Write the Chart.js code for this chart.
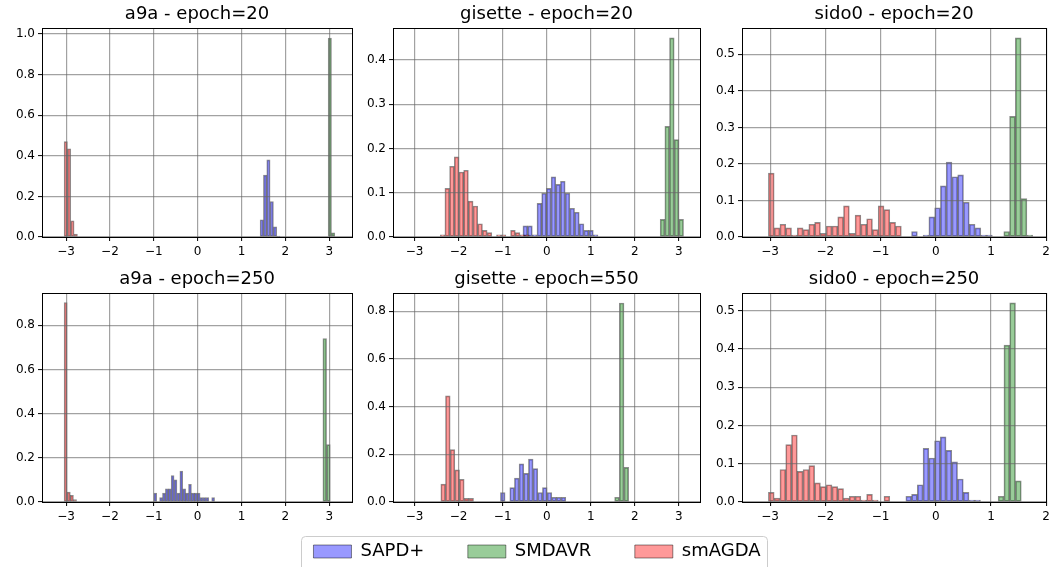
<!DOCTYPE html>
<html>
<head>
<meta charset="utf-8">
<script src="https://cdn.jsdelivr.net/npm/chart.js@4.4.1/dist/chart.umd.min.js"></script>
<style>
  html, body { margin: 0; padding: 0; background: #fff; overflow: hidden; }
  body { width: 1054px; height: 567px; position: relative; }
  canvas { position: absolute; }
</style>
</head>
<body>
<script>
// ---- data ----
const SERIES = ['SAPD+', 'SMDAVR', 'smAGDA'];
const titles = ['a9a - epoch=20', 'gisette - epoch=20', 'sido0 - epoch=20',
                'a9a - epoch=250', 'gisette - epoch=550', 'sido0 - epoch=250'];
const xTicks = [-3, -2, -1, 0, 1, 2, 3];

// each histogram: first bin edge and bin width per series (SAPD+, SMDAVR, smAGDA),
// then the bar heights (share of samples per bin)
const a9a20Start = [1.424, 2.976, -3.046];
const a9a20Width = [0.076, 0.076, 0.076];
const a9a20Sapd = [0.085, 0.305, 0.38, 0.175, 0.05, 0.005];
const a9a20Smdavr = [0.98, 0.02];
const a9a20Smagda = [0.47, 0.435, 0.08, 0.015];

const gis20Start = [-0.54, 2.576, -2.418];
const gis20Width = [0.1065, 0.106, 0.1065];
const gis20Sapd = [0.025, 0.025, 0.005, 0.076, 0.099, 0.11, 0.136, 0.119, 0.126, 0.099, 0.065, 0.056, 0.03, 0.015, 0.015, 0.005];
const gis20Smdavr = [0.04, 0.25, 0.45, 0.22, 0.04];
const gis20Smagda = [0.005, 0.11, 0.16, 0.181, 0.147, 0.151, 0.081, 0.07, 0.03, 0.015, 0.01, 0, 0.005, 0.005, 0, 0.015, 0.01, 0.005, 0.005, 0];

const sido20Start = [-0.4385, 1.232, -3.032];
const sido20Width = [0.1045, 0.1047, 0.1047];
const sido20Sapd = [0.015, 0, 0.005, 0.055, 0.08, 0.14, 0.205, 0.165, 0.17, 0.095, 0.035, 0.025, 0.005, 0.005];
const sido20Smdavr = [0.015, 0.33, 0.545, 0.105, 0.005];
const sido20Smagda = [0.175, 0.025, 0.035, 0.025, 0.005, 0.025, 0.02, 0.035, 0.04, 0.01, 0.03, 0.03, 0.055, 0.085, 0.01, 0.06, 0.035, 0.05, 0.02, 0.085, 0.075, 0.04, 0.03];

const a9a250Start = [-1.0, 2.856, -3.046];
const a9a250Width = [0.066, 0.084, 0.071];
const a9a250Sapd = [0.04, 0, 0.02, 0.04, 0.06, 0.06, 0.12, 0.1, 0.04, 0.14, 0.06, 0.04, 0.08, 0.04, 0.04, 0.04, 0.02, 0.02, 0.02, 0, 0.02];
const a9a250Smdavr = [0.74, 0.26];
const a9a250Smagda = [0.903, 0.045, 0.03, 0.011];

const gis550Start = [-1.051, 1.542, -2.404];
const gis550Width = [0.106, 0.106, 0.106];
const gis550Sapd = [0.04, 0, 0.06, 0.1, 0.16, 0.12, 0.18, 0.14, 0.04, 0.06, 0.04, 0.02, 0.02, 0.02];
const gis550Smdavr = [0.02, 0.835, 0.145];
const gis550Smagda = [0.075, 0.445, 0.22, 0.135, 0.095, 0.015, 0.015];

const sido250Start = [-0.542, 1.13, -3.032];
const sido250Width = [0.104, 0.1047, 0.1047];
const sido250Sapd = [0.015, 0.02, 0.045, 0.14, 0.115, 0.16, 0.17, 0.135, 0.105, 0.06, 0.025, 0.005, 0.005];
const sido250Smdavr = [0.015, 0.41, 0.52, 0.055];
const sido250Smagda = [0.025, 0.01, 0.085, 0.15, 0.175, 0.08, 0.085, 0.095, 0.05, 0.04, 0.045, 0.04, 0.035, 0.01, 0.015, 0.015, 0.005, 0.02, 0.005, 0, 0.015];

// ---- styling / layout ----
const FILL = ['rgba(0,0,255,0.4)', 'rgba(0,128,0,0.4)', 'rgba(255,0,0,0.4)'];
const EDGE = 'rgba(0,0,0,0.45)';
const GRID = 'rgba(100,100,100,0.6)';

Chart.defaults.font.family = "'DejaVu Sans', sans-serif";
Chart.defaults.color = '#000';

const panels = [
  { start: a9a20Start, width: a9a20Width, h: [a9a20Sapd, a9a20Smdavr, a9a20Smagda], xLim: [-3.55, 3.52], yMax: 1.03, yTicks: [0, 0.2, 0.4, 0.6, 0.8, 1.0] },
  { start: gis20Start, width: gis20Width, h: [gis20Sapd, gis20Smdavr, gis20Smagda], xLim: [-3.49, 3.48], yMax: 0.4725, yTicks: [0, 0.1, 0.2, 0.3, 0.4] },
  { start: sido20Start, width: sido20Width, h: [sido20Sapd, sido20Smdavr, sido20Smagda], xLim: [-3.51, 2.0], yMax: 0.572, yTicks: [0, 0.1, 0.2, 0.3, 0.4, 0.5] },
  { start: a9a250Start, width: a9a250Width, h: [a9a250Sapd, a9a250Smdavr, a9a250Smagda], xLim: [-3.55, 3.52], yMax: 0.946, yTicks: [0, 0.2, 0.4, 0.6, 0.8] },
  { start: gis550Start, width: gis550Width, h: [gis550Sapd, gis550Smdavr, gis550Smagda], xLim: [-3.49, 3.48], yMax: 0.877, yTicks: [0, 0.2, 0.4, 0.6, 0.8] },
  { start: sido250Start, width: sido250Width, h: [sido250Sapd, sido250Smdavr, sido250Smagda], xLim: [-3.51, 2.0], yMax: 0.546, yTicks: [0, 0.1, 0.2, 0.3, 0.4, 0.5] }
];

// left, top, width, height of each canvas
const boxes = [[0, 0, 357, 263], [351, 0, 354, 263], [700, 0, 354, 263],
               [0, 265, 357, 263], [351, 265, 354, 263], [700, 265, 354, 263]];

function binPoints(start, width, heights) {
  const pts = [];
  heights.forEach((h, i) => {
    if (h > 0) pts.push({ x: start + width * (i + 0.5), y: h });
  });
  return pts;
}

function fmtX(v) {
  return v < 0 ? '\u2212' + (-v) : String(v);
}

function makeCanvas(l, t, w, h) {
  const cv = document.createElement('canvas');
  cv.width = w; cv.height = h;
  cv.style.left = l + 'px'; cv.style.top = t + 'px';
  cv.style.width = w + 'px'; cv.style.height = h + 'px';
  document.body.appendChild(cv);
  return cv;
}

// black box round the plot area
const frame = {
  id: 'frame',
  afterDraw(chart) {
    const { ctx, chartArea: { left, top, right, bottom } } = chart;
    const x0 = Math.round(left - 0.5) + 0.5, x1 = Math.round(right - 0.5) + 0.5;
    const y0 = Math.round(top - 0.5) + 0.5, y1 = Math.round(bottom - 0.5) + 0.5;
    ctx.save();
    ctx.strokeStyle = '#000';
    ctx.lineWidth = 1;
    ctx.strokeRect(x0, y0, x1 - x0, y1 - y0);
    ctx.restore();
  }
};

function xScale(lim, visible) {
  const s = {
    type: 'linear', position: 'bottom', display: visible,
    min: lim[0], max: lim[1], offset: false,
    afterBuildTicks: sc => { sc.ticks = xTicks.filter(v => v >= lim[0] && v <= lim[1]).map(v => ({ value: v })); },
    grid: { offset: false, color: GRID, lineWidth: 1.2, z: 1, drawTicks: true, tickLength: 4, tickColor: '#000', tickWidth: 1 },
    border: { display: false },
    ticks: { color: '#000', font: { size: 12 }, padding: 4, maxRotation: 0, autoSkip: false, callback: v => fmtX(v) }
  };
  if (visible) s.afterFit = sc => { sc.height = 26; };
  return s;
}

panels.forEach((p, i) => {
  const [l, t, w, h] = boxes[i];
  const cv = makeCanvas(l, t, w, h);
  // smAGDA last in the drawing stack = on top
  const datasets = [2, 1, 0].map(k => ({
    label: SERIES[k],
    data: binPoints(p.start[k], p.width[k], p.h[k]),
    xAxisID: k === 0 ? 'x' : 'x' + k,
    yAxisID: 'y',
    backgroundColor: FILL[k],
    borderColor: EDGE,
    borderWidth: 1,
    borderSkipped: false,
    barPercentage: 1,
    categoryPercentage: 1,
    grouped: false
  }));
  new Chart(cv, {
    type: 'bar',
    data: { datasets },
    options: {
      responsive: false,
      animation: false,
      devicePixelRatio: 1,
      layout: { padding: { left: 0, right: 5, top: 0, bottom: 0 } },
      scales: {
        x: xScale(p.xLim, true),
        x1: xScale(p.xLim, false),
        x2: xScale(p.xLim, false),
        y: {
          type: 'linear', min: 0, max: p.yMax,
          afterBuildTicks: sc => { sc.ticks = p.yTicks.map(v => ({ value: v })); },
          afterFit: sc => { sc.width = 42; },
          grid: { color: GRID, lineWidth: 1.2, z: 1, drawTicks: true, tickLength: 4, tickColor: '#000', tickWidth: 1 },
          border: { display: false },
          ticks: { color: '#000', font: { size: 12 }, padding: 3, callback: v => v.toFixed(1) }
        }
      },
      plugins: {
        legend: { display: false },
        tooltip: { enabled: false },
        title: {
          display: true, text: titles[i], fullSize: false, color: '#000',
          font: { size: 18, weight: 'normal' },
          padding: { top: 4, bottom: 2.4 }
        }
      }
    },
    plugins: [frame]
  });
});

// shared legend under the grid
const legendFrame = {
  id: 'legendFrame',
  beforeDraw(chart) {
    const hb = chart.legend && chart.legend.legendHitBoxes;
    if (!hb || !hb.length) return;
    const last = hb[hb.length - 1];
    const x0 = Math.round(hb[0].left - 12.5) + 0.5;
    const x1 = Math.round(last.left + last.width + 6) + 0.5;
    const y0 = Math.round(hb[0].top - 6.5) + 0.5;
    const y1 = y0 + 60, r = 4;
    const ctx = chart.ctx;
    ctx.save();
    ctx.beginPath();
    ctx.moveTo(x0 + r, y0);
    ctx.lineTo(x1 - r, y0);
    ctx.arcTo(x1, y0, x1, y0 + r, r);
    ctx.lineTo(x1, y1 - r);
    ctx.arcTo(x1, y1, x1 - r, y1, r);
    ctx.lineTo(x0 + r, y1);
    ctx.arcTo(x0, y1, x0, y1 - r, r);
    ctx.lineTo(x0, y0 + r);
    ctx.arcTo(x0, y0, x0 + r, y0, r);
    ctx.closePath();
    ctx.fillStyle = 'rgba(255,255,255,0.8)';
    ctx.fill();
    ctx.strokeStyle = '#cccccc';
    ctx.lineWidth = 1;
    ctx.stroke();
    ctx.restore();
  }
};

const lc = makeCanvas(247, 499, 580, 130);
new Chart(lc, {
  type: 'bar',
  data: {
    labels: [],
    datasets: SERIES.map((s, k) => ({ label: s, data: [], backgroundColor: FILL[k], borderColor: EDGE, borderWidth: 1 }))
  },
  options: {
    responsive: false,
    animation: false,
    devicePixelRatio: 1,
    scales: { x: { display: false }, y: { display: false } },
    plugins: {
      tooltip: { enabled: false },
      legend: {
        display: true, position: 'top', align: 'center', maxHeight: 200,
        labels: { boxWidth: 38, boxHeight: 13, padding: 43.5, color: '#000', font: { size: 18 } }
      }
    }
  },
  plugins: [legendFrame]
});
</script>
</body>
</html>
